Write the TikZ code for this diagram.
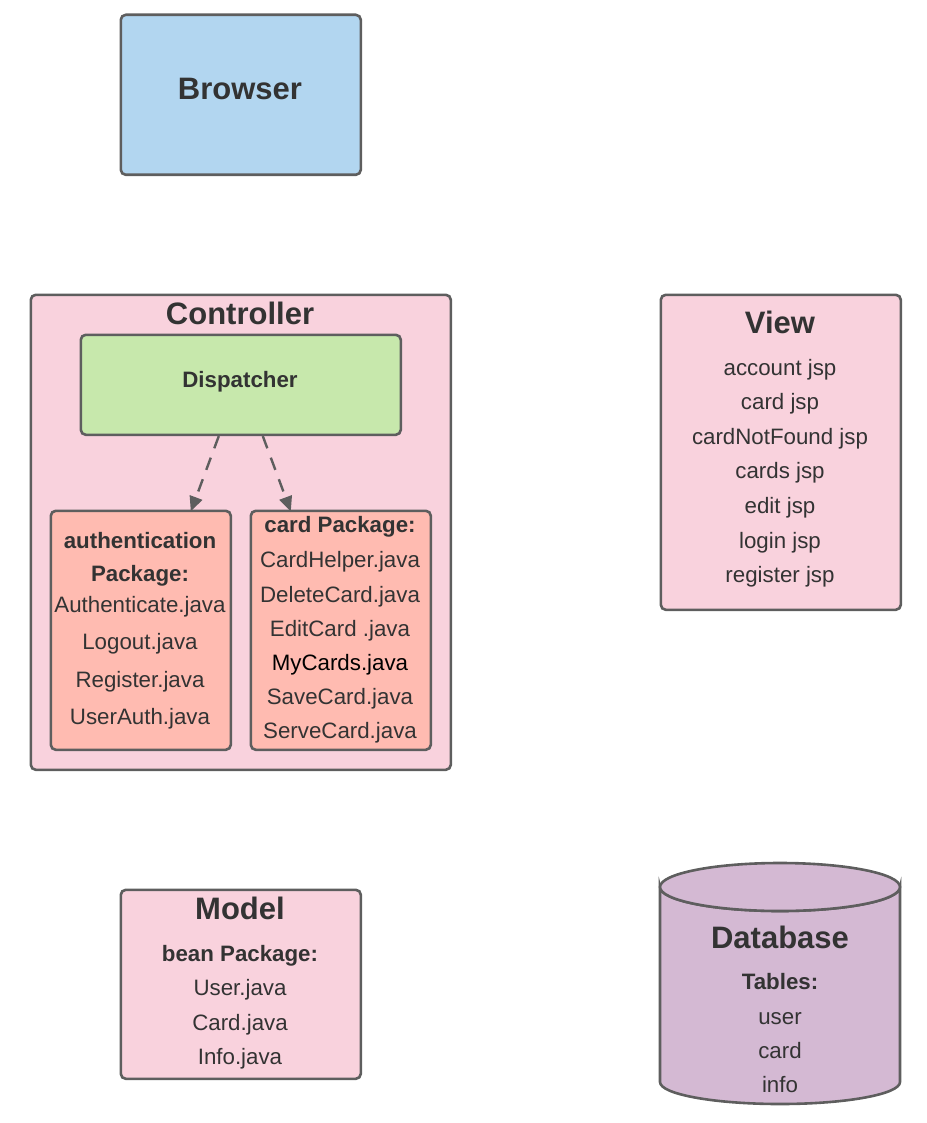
\documentclass[tikz,border=0pt]{standalone}
\usepackage{fontspec}
\setmainfont{Liberation Sans}
\usetikzlibrary{arrows.meta}
\definecolor{txt}{HTML}{333333}
\definecolor{bord}{HTML}{5E5E5E}
\definecolor{blueF}{HTML}{B2D6F0}
\definecolor{pinkF}{HTML}{F9D2DD}
\definecolor{greenF}{HTML}{C7E8AC}
\definecolor{salmonF}{HTML}{FFBBB1}
\definecolor{purpleF}{HTML}{D4B9D3}
\begin{document}
\begin{tikzpicture}[x=1pt,y=-1pt,
  box/.style={draw=bord, line width=2.6pt, rounded corners=5pt, anchor=north west, inner sep=0pt},
  t/.style={anchor=base, text=txt, inner sep=0pt, font=\fontsize{22.3}{26}\selectfont},
  tb/.style={t, font=\fontsize{22.3}{26}\selectfont\bfseries},
  title/.style={t, font=\fontsize{31}{36}\selectfont\bfseries},
  dash arrow/.style={draw=bord, line width=2.4pt, dash pattern=on 13pt off 10pt, -{Triangle[length=15pt,width=13pt]}}]
\useasboundingbox (0,0) rectangle (926,1123);

% Browser
\node[box, fill=blueF, minimum width=240pt, minimum height=160pt] (browser) at (119.5,13.5) {};
\node[title] (browsert) at (240,100) {Browser};

% Controller
\node[box, fill=pinkF, minimum width=420pt, minimum height=475pt] (ctrl) at (29.5,293.5) {};
\node[title] (ctrlt) at (240,324) {Controller};
\node[box, fill=greenF, minimum width=320pt, minimum height=100pt] (disp) at (79.5,333.5) {};
\node[tb] (dispt) at (240,387) {Dispatcher};

\node[box, fill=salmonF, minimum width=180pt, minimum height=239pt] (auth) at (49.5,509.5) {};
\node[tb] at (140,548) {authentication};
\node[tb] at (140,581) {Package:};
\node[t] at (140,612) {Authenticate.java};
\node[t] at (140,649) {Logout.java};
\node[t] at (140,687) {Register.java};
\node[t] at (140,724) {UserAuth.java};

\node[box, fill=salmonF, minimum width=180pt, minimum height=239pt] (card) at (249.5,509.5) {};
\node[tb] at (340,532) {card Package:};
\node[t] at (340,567) {CardHelper.java};
\node[t] at (340,602) {DeleteCard.java};
\node[t] at (340,636) {EditCard .java};
\node[t, text=black] at (340,670) {MyCards.java};
\node[t] at (340,704) {SaveCard.java};
\node[t] at (340,738) {ServeCard.java};

\coordinate (d1) at ([xshift=-22pt]disp.south);
\coordinate (d2) at ([xshift=22pt]disp.south);
\coordinate (a1) at ([xshift=50pt,yshift=-2pt]auth.north);
\coordinate (c1) at ([xshift=-50pt,yshift=-2pt]card.north);
\draw[dash arrow] (d1) -- (a1);
\draw[dash arrow] (d2) -- (c1);

% View
\node[box, fill=pinkF, minimum width=240pt, minimum height=315pt] (view) at (659.5,293.5) {};
\node[title] at (780,333) {View};
\node[t] at (780,375) {account jsp};
\node[t] at (780,409) {card jsp};
\node[t] at (780,444) {cardNotFound jsp};
\node[t] at (780,478) {cards jsp};
\node[t] at (780,513) {edit jsp};
\node[t] at (780,548) {login jsp};
\node[t] at (780,582) {register jsp};

% Model
\node[box, fill=pinkF, minimum width=240pt, minimum height=189pt] (model) at (119.5,888.5) {};
\node[title] at (240,919) {Model};
\node[tb] at (240,961) {bean Package:};
\node[t] at (240,995) {User.java};
\node[t] at (240,1030) {Card.java};
\node[t] at (240,1064) {Info.java};

% Database
\draw[draw=bord, line width=2.6pt, fill=purpleF]
  (660,887) -- (660,1082) arc[start angle=180, end angle=360, x radius=120pt, y radius=22pt]
  -- (900,887) arc[start angle=0, end angle=-180, x radius=120pt, y radius=24pt] -- cycle;
\draw[draw=bord, line width=2.6pt, fill=purpleF] (780,887) ellipse[x radius=120pt, y radius=24pt];
\node[title] at (780,948) {Database};
\node[tb] at (780,989) {Tables:};
\node[t] at (780,1024) {user};
\node[t] at (780,1058) {card};
\node[t] at (780,1092) {info};
\end{tikzpicture}
\end{document}
